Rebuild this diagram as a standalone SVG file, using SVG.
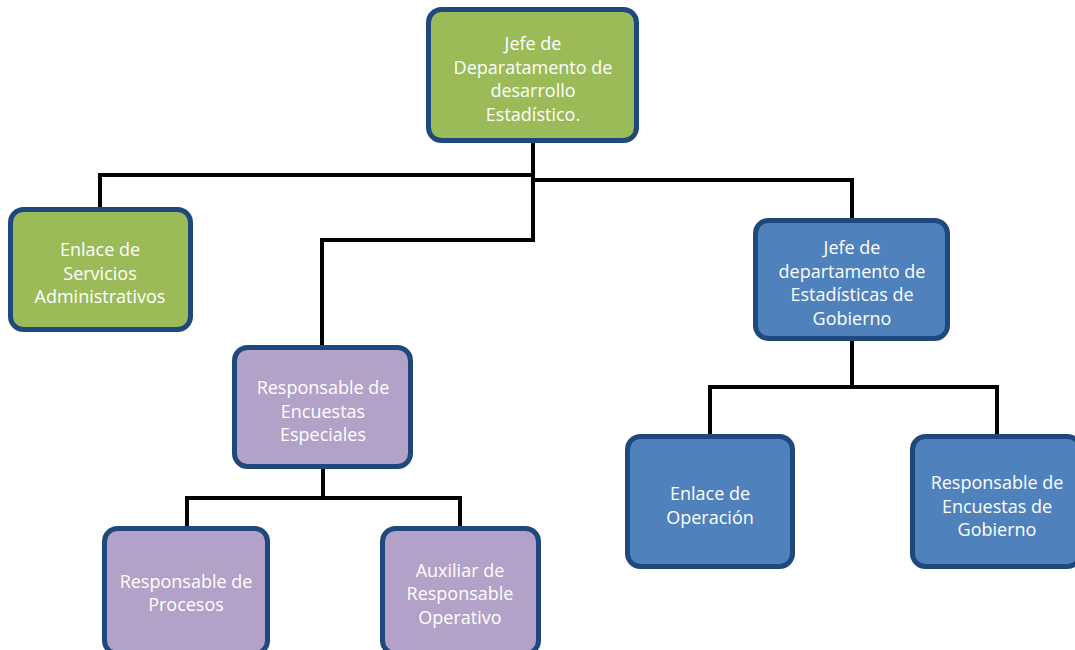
<svg xmlns="http://www.w3.org/2000/svg" width="1075" height="650" viewBox="0 0 1075 650">
<style>
.box{stroke:#1F497D;stroke-width:5}
.g{fill:#9BBB59}.b{fill:#4F81BD}.p{fill:#B2A2C7}
text{font-family:"Open Sans","Noto Sans",sans-serif;font-size:18px;fill:#fff;text-anchor:middle}
.c{fill:none;stroke:#000;stroke-width:4}
</style>
<rect width="1075" height="650" fill="#fff"/>
<g id="connectors">
<path class="c" d="M533,143 V240 H322 V345"/>
<path class="c" d="M533,175 H100 V207"/>
<path class="c" d="M533,180 H852 V218"/>
<path class="c" d="M852,341 V387 M710,434 V387 H997 V434"/>
<path class="c" d="M323,469 V498 M187,526 V498 H460 V526"/>
</g>
<g id="n1"><rect class="box g" x="428.5" y="9.5" width="208" height="131" rx="13"/>
<text x="533" y="50">Jefe de</text><text x="533" y="74">Deparatamento de</text><text x="533" y="97">desarrollo</text><text x="533" y="121">Estadístico.</text></g>
<g id="n2"><rect class="box g" x="10.5" y="209.5" width="180" height="120" rx="13"/>
<text x="100" y="256">Enlace de</text><text x="100" y="280">Servicios</text><text x="100" y="303">Administrativos</text></g>
<g id="n3"><rect class="box b" x="755.5" y="220.5" width="192" height="118" rx="13"/>
<text x="852" y="254">Jefe de</text><text x="852" y="278">departamento de</text><text x="852" y="301">Estadísticas de</text><text x="852" y="325">Gobierno</text></g>
<g id="n4"><rect class="box p" x="234.5" y="347.5" width="176" height="119" rx="13"/>
<text x="323" y="394">Responsable de</text><text x="323" y="418">Encuestas</text><text x="323" y="441">Especiales</text></g>
<g id="n5"><rect class="box b" x="627.5" y="436.5" width="165" height="130" rx="13"/>
<text x="710" y="500">Enlace de</text><text x="710" y="524">Operación</text></g>
<g id="n6"><rect class="box b" x="912.5" y="436.5" width="168" height="130" rx="13"/>
<text x="997" y="489">Responsable de</text><text x="997" y="513">Encuestas de</text><text x="997" y="536">Gobierno</text></g>
<g id="n7"><rect class="box p" x="104.5" y="528.5" width="163" height="125" rx="13"/>
<text x="186" y="588">Responsable de</text><text x="186" y="611">Procesos</text></g>
<g id="n8"><rect class="box p" x="382.5" y="528.5" width="156" height="125" rx="13"/>
<text x="460" y="577">Auxiliar de</text><text x="460" y="600">Responsable</text><text x="460" y="624">Operativo</text></g>
</svg>
